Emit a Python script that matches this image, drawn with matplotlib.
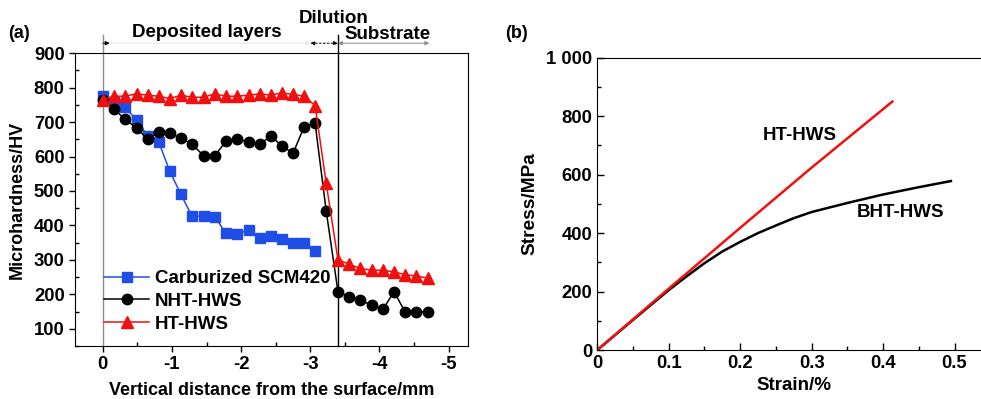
import matplotlib
matplotlib.use('Agg')
import matplotlib.pyplot as plt
from matplotlib.ticker import MultipleLocator, FixedLocator

plt.rcParams['font.family'] = ['Liberation Sans', 'DejaVu Sans']
plt.rcParams['font.weight'] = 'bold'
plt.rcParams['axes.labelweight'] = 'bold'

# (a) микротвёрдость по глубине
dist = [0, -0.16, -0.32, -0.49, -0.65, -0.81, -0.97, -1.13, -1.29, -1.46,
        -1.62, -1.78, -1.94, -2.11, -2.27, -2.43, -2.59, -2.75, -2.91, -3.07,
        -3.23, -3.40, -3.56, -3.72, -3.89, -4.05, -4.21, -4.37, -4.53, -4.70]
scm420 = [775, 757, 744, 705, 660, 642, 557, 490, 427, 427,
          425, 377, 374, 387, 364, 369, 360, 350, 350, 326]
nht = [763, 739, 708, 683, 650, 670, 667, 654, 636, 602,
       602, 644, 652, 641, 636, 659, 631, 609, 686, 696,
       442, 208, 193, 183, 168, 156, 208, 149, 149, 149]
ht = [765, 775, 775, 782, 778, 775, 768, 778, 772, 772,
      782, 775, 775, 778, 782, 778, 785, 780, 775, 748,
      522, 300, 288, 275, 270, 270, 265, 257, 253, 247]

# (b) кривые напряжение-деформация
strain_ht = [0, 0.05, 0.1, 0.2, 0.3, 0.413]
stress_ht = [0, 105, 210, 418, 624, 850]
strain_bht = [0, 0.05, 0.1, 0.125, 0.15, 0.175, 0.2, 0.225, 0.25, 0.275,
              0.3, 0.35, 0.4, 0.45, 0.495]
stress_bht = [0, 103, 205, 252, 297, 337, 370, 400, 426, 451,
              472, 503, 532, 557, 578]

fig = plt.figure(figsize=(9.81, 3.99), dpi=100)
ax1 = fig.add_axes([0.0765, 0.1328, 0.4006, 0.734])
ax2 = fig.add_axes([0.6089, 0.1228, 0.4005, 0.7326])

fs = 13.3
lfs = 13

ax1.axvline(0, ymin=0, ymax=1.062, color='0.55', lw=1, clip_on=False, zorder=1)
ax1.axvline(-3.4, ymin=0, ymax=1.062, color='k', lw=1, clip_on=False, zorder=1)

ax1.plot(dist[:20], scm420, '-s', color='#1f4ee6', mfc='#1f4ee6', mec='#1f4ee6',
         ms=6.5, lw=1.1, label='Carburized SCM420', zorder=3)
ax1.plot(dist, nht, '-o', color='k', ms=7.5, lw=1.1, label='NHT-HWS', zorder=3)
ax1.plot(dist, ht, '-^', color='#f01010', mfc='#f01010', mec='#f01010',
         ms=8, lw=1.1, label='HT-HWS', zorder=4)

ax1.set_xlim(0.4, -5.28)
ax1.set_ylim(50, 900)
ax1.xaxis.set_major_locator(FixedLocator([0, -1, -2, -3, -4, -5]))
ax1.xaxis.set_minor_locator(FixedLocator([-0.5, -1.5, -2.5, -3.5, -4.5]))
ax1.set_xticklabels(['0', '-1', '-2', '-3', '-4', '-5'])
ax1.yaxis.set_minor_locator(MultipleLocator(50))
ax1.set_yticks([100, 200, 300, 400, 500, 600, 700, 800, 900])
ax1.tick_params(which='major', direction='out', length=4, width=1, labelsize=fs)
ax1.tick_params(which='minor', direction='in', length=3, width=1)
ax1.set_xlabel('Vertical distance from the surface/mm', fontsize=lfs, labelpad=6)
ax1.set_ylabel('Microhardness/HV', fontsize=lfs, labelpad=6)

# стрелки зон
ya = 1.034
arr = dict(arrowstyle='<|-|>', color='0.55', lw=0.7, mutation_scale=6,
           shrinkA=0, shrinkB=0)
ax1.annotate('', xy=(0, ya), xytext=(-3.0, ya), xycoords=('data', 'axes fraction'),
             textcoords=('data', 'axes fraction'), arrowprops=dict(arr, color='0.9'))
ax1.annotate('', xy=(0.0, ya), xytext=(-0.1, ya), xycoords=('data', 'axes fraction'),
             textcoords=('data', 'axes fraction'),
             arrowprops=dict(arrowstyle='<|-', color='k', lw=0.7, mutation_scale=6,
                             shrinkA=0, shrinkB=0))
ax1.annotate('', xy=(-3.0, ya), xytext=(-3.4, ya), xycoords=('data', 'axes fraction'),
             textcoords=('data', 'axes fraction'),
             arrowprops=dict(arr, color='k', linestyle=(0, (2, 2))))
ax1.annotate('', xy=(-3.4, ya), xytext=(-4.72, ya), xycoords=('data', 'axes fraction'),
             textcoords=('data', 'axes fraction'), arrowprops=arr)
ax1.text(-1.5, 1.07, 'Deposited layers', transform=ax1.get_xaxis_transform(),
         ha='center', va='center', fontsize=lfs + 0.5)
ax1.text(-3.34, 1.12, 'Dilution', transform=ax1.get_xaxis_transform(),
         ha='center', va='center', fontsize=lfs + 0.5)
ax1.text(-4.12, 1.065, 'Substrate', transform=ax1.get_xaxis_transform(),
         ha='center', va='center', fontsize=lfs + 0.5)

leg = ax1.legend(loc='lower left', bbox_to_anchor=(0.055, 0.02), frameon=False,
                 fontsize=lfs + 0.5, handlelength=2.4, labelspacing=0.3,
                 handletextpad=0.3, borderaxespad=0)

ax2.plot(strain_bht, stress_bht, color='k', lw=1.8)
ax2.plot(strain_ht, stress_ht, color='#f01010', lw=1.8)
ax2.text(0.284, 735, 'HT-HWS', ha='center', va='center', fontsize=lfs + 0.5)
ax2.text(0.424, 472, 'BHT-HWS', ha='center', va='center', fontsize=lfs + 0.5)
ax2.set_xlim(0, 0.55)
ax2.set_ylim(0, 1000)
ax2.xaxis.set_minor_locator(MultipleLocator(0.05))
ax2.set_xticks([0, 0.1, 0.2, 0.3, 0.4, 0.5])
ax2.set_xticklabels(['0', '0.1', '0.2', '0.3', '0.4', '0.5'])
ax2.set_yticks([0, 200, 400, 600, 800, 1000])
ax2.set_yticklabels(['0', '200', '400', '600', '800', '1 000'])
ax2.yaxis.set_minor_locator(MultipleLocator(100))
ax2.tick_params(which='major', direction='in', length=5, width=1, labelsize=fs)
ax2.tick_params(which='minor', direction='in', length=3, width=1)
ax2.set_xlabel('Strain/%', fontsize=lfs + 0.5, labelpad=4)
ax2.set_ylabel('Stress/MPa', fontsize=lfs + 0.8, labelpad=6)
ax2.spines['right'].set_visible(False)

for ax in (ax1, ax2):
    for lab in ax.get_xticklabels() + ax.get_yticklabels():
        lab.set_fontweight('bold')

fig.text(0.008, 0.917, '(a)', fontsize=lfs, va='center')
fig.text(0.515, 0.917, '(b)', fontsize=lfs, va='center')

fig.savefig('out.png', dpi=100)
